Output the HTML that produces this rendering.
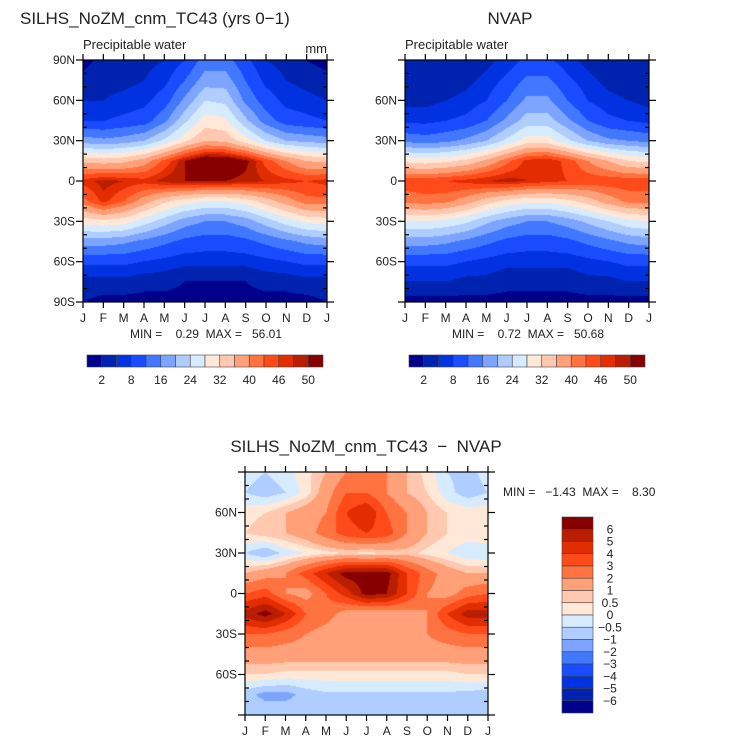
<!DOCTYPE html>
<html><head><meta charset="utf-8">
<style>
body{margin:0;background:#fff;width:733px;height:744px;overflow:hidden;position:relative;font-family:"Liberation Sans",sans-serif;}
canvas{position:absolute;}
svg{position:absolute;left:0;top:0;}
svg text{white-space:pre;}
</style></head><body>
<canvas id="c1" width="244" height="242" style="left:83px;top:60px"></canvas>
<canvas id="c2" width="244" height="242" style="left:405px;top:60px"></canvas>
<canvas id="c3" width="243" height="243" style="left:245px;top:472px"></canvas>
<svg id="ov" width="733" height="744"></svg>
<script>
const months=["J","F","M","A","M","J","J","A","S","O","N","D","J"];
const latLabels=["90N","60N","30N","0","30S","60S","90S"];
const colors=["#00008c","#0023af","#0032e1","#194bff","#4178ff","#7da5ff","#afcdff","#d7ebff","#ffe8d7","#ffc8af","#ffa078","#ff7341","#ff4b19","#e12d00","#b91e00","#870000"];
const lev1=[2,5,8,12,16,20,24,28,32,36,40,43,46,48,50];
const lev1Labels=["2","8","16","24","32","40","46","50"];
const lev3=[-6,-5,-4,-3,-2,-1,-0.5,0,0.5,1,2,3,4,5,6];
const lev3Labels=["6","5","4","3","2","1","0.5","0","\u22120.5","\u22121","\u22122","\u22123","\u22124","\u22125","\u22126"];
// rows: 90N..90S every 15 deg; cols: Jan..Jan
const model=[
[1,3,3,4,5,8,14,14,9,5,4,2,1],
[3,4,4,5,7,12,18,18,12,7,5,4,3],
[5,5,6,7,10,17,24,23,15,10,7,6,5],
[8,8,9,10,15,23,30,29,21,14,10,9,8],
[18,17,18,20,25,31,36,35,30,24,20,19,18],
[35,34,35,38,44,50,54,54,51,45,40,36,35],
[47,49,48,47,49,50,50,50,49,48,47,46,47],
[42,47,43,38,33,30,28,28,30,34,38,42,42],
[30,31,30,26,22,18,16,16,18,22,26,29,30],
[18,18,17,15,13,11,10,10,11,13,15,17,18],
[9,9,9,8,7,6,6,6,6,7,8,9,9],
[4,4,4,3,3,2,2,2,2,3,3,4,4],
[2,1,1,1,1,1,1,1,1,1,1,1,2]];
const nvap=[
[2,2,2,3,4,6,9,9,6,4,3,2,2],
[3,3,3,4,6,9,13,13,9,6,4,3,3],
[4,4,5,6,8,12,17,17,12,8,6,5,4],
[7,7,8,9,12,17,22,22,17,12,9,8,7],
[15,14,15,17,20,25,30,30,25,20,17,16,15],
[31,30,31,33,37,42,47,48,45,40,36,32,31],
[45,45,46,47,48,49,48,47,46,45,45,45,45],
[41,42,41,38,34,31,29,29,31,34,38,41,41],
[28,28,27,25,21,18,16,16,18,21,24,27,28],
[18,18,17,15,13,11,10,10,11,13,15,17,18],
[9,9,9,8,7,6,6,6,6,7,8,9,9],
[5,5,5,4,4,3,3,3,3,4,4,5,5],
[1,1,1,1,1,1,1,1,1,1,1,1,1]];
const diff=[
[-0.3,-0.5,-0.2,0.3,1,2,2,2,1,0.3,-0.5,-0.7,-0.3],
[-0.5,-0.8,-0.5,0.2,1.5,3,3,2,1,0.5,-0.3,-0.8,-0.5],
[0.3,0.5,1,1.5,2,4,5,3,2,1,0.5,0.3,0.3],
[0.5,0.8,1,1.5,2.5,3.5,4,3.5,2,1,0.5,0.3,0.5],
[-0.5,-1,-0.3,0,0.3,0.5,0.3,0.5,0.7,0.3,0,-0.4,-0.5],
[1,1.5,2,3.5,5,6.5,6.5,6.5,4,2.5,1.5,1,1],
[3,3.5,2,1.5,3,4.5,6.5,6,4,2,1.5,2.5,3],
[5.5,6.5,5,3,2.5,1.5,1,1.2,1.5,2,4,5.5,5.5],
[3,3,2.5,2,1.5,1.2,1.2,1.5,1.5,2,2.5,3,3],
[1.5,1.5,1.5,1.5,1.5,1.5,1.5,1.5,1.5,1.5,1.5,1.5,1.5],
[0.5,0.5,0.3,0.3,0.3,0.3,0.3,0.3,0.3,0.3,0.3,0.5,0.5],
[-0.8,-1.2,-1.2,-0.8,-0.6,-0.6,-0.6,-0.6,-0.6,-0.6,-0.6,-0.7,-0.8],
[-0.6,-0.6,-0.6,-0.6,-0.6,-0.6,-0.6,-0.6,-0.6,-0.6,-0.6,-0.6,-0.6]];

function hex(c){return [parseInt(c.slice(1,3),16),parseInt(c.slice(3,5),16),parseInt(c.slice(5,7),16)];}
const rgb=colors.map(hex);
function drawField(id,grid,lev){
  const cv=document.getElementById(id),ctx=cv.getContext('2d');
  const W=cv.width,H=cv.height,img=ctx.createImageData(W,H);
  const nr=grid.length,nc=grid[0].length;
  for(let y=0;y<H;y++){
    const fy=y/(H-1)*(nr-1),r0=Math.min(Math.floor(fy),nr-2),ty=fy-r0;
    for(let x=0;x<W;x++){
      const fx=x/(W-1)*(nc-1),c0=Math.min(Math.floor(fx),nc-2),tx=fx-c0;
      const v=(grid[r0][c0]*(1-tx)+grid[r0][c0+1]*tx)*(1-ty)+(grid[r0+1][c0]*(1-tx)+grid[r0+1][c0+1]*tx)*ty;
      let k=0;while(k<lev.length&&v>=lev[k])k++;
      const col=rgb[k],i=(y*W+x)*4;
      img.data[i]=col[0];img.data[i+1]=col[1];img.data[i+2]=col[2];img.data[i+3]=255;
    }
  }
  ctx.putImageData(img,0,0);
}
drawField('c1',model,lev1);
drawField('c2',nvap,lev1);
drawField('c3',diff,lev3);

const svg=document.getElementById('ov'),NS='http://www.w3.org/2000/svg';
function el(tag,attrs,parent){const e=document.createElementNS(NS,tag);for(const k in attrs)e.setAttribute(k,attrs[k]);(parent||svg).appendChild(e);return e;}
function txt(x,y,s,size,anchor,name){const t=el('text',{x:x,y:y,'font-size':size,'text-anchor':anchor||'start',fill:'#222','font-family':'Liberation Sans, sans-serif'});t.textContent=s;


return t;}
function axes(x0,y0,w,h,labelIdx,pfx){
  const g=el('g',{stroke:'#000','stroke-width':1.2,fill:'none'});
  
  
  el('rect',{x:x0,y:y0,width:w,height:h},g);
  const xs=m=>x0+m*w/12, ys=lat=>y0+(90-lat)/180*h;
  for(let m=0;m<13;m++){
    el('line',{x1:xs(m),y1:y0,x2:xs(m),y2:y0-6},g);
    el('line',{x1:xs(m),y1:y0+h,x2:xs(m),y2:y0+h+6},g);
    txt(xs(m),y0+h+20,months[m],12,'middle',pfx+'-month-label');
  }
  for(let lat=-90;lat<=90;lat+=10){
    if(lat%30===0){
      el('line',{x1:x0-7,y1:ys(lat),x2:x0,y2:ys(lat)},g);
      el('line',{x1:x0+w,y1:ys(lat),x2:x0+w+7,y2:ys(lat)},g);
    }else{
      el('line',{x1:x0,y1:ys(lat),x2:x0+4,y2:ys(lat)},g);
      el('line',{x1:x0+w-4,y1:ys(lat),x2:x0+w,y2:ys(lat)},g);
    }
  }
  labelIdx.forEach(i=>{const lat=90-30*i;txt(x0-8,ys(lat)+4,latLabels[i],12,'end',pfx+'-lat-label');});
}
axes(83,60,244,242,[0,1,2,3,4,5,6],'model');
axes(405,60,244,242,[1,2,3,4,5],'nvap');
axes(245,472,243,243,[1,2,3,4,5],'diff');

txt(20,24,"SILHS_NoZM_cnm_TC43 (yrs 0\u22121)",17,'start','model-title');
txt(510,24,"NVAP",17,'middle','nvap-title');
txt(83,49,"Precipitable water",13,'start','model-subtitle');
txt(405,49,"Precipitable water",13,'start','nvap-subtitle');
txt(327,53,"mm",13,'end','model-units');
txt(206,338,"MIN =    0.29  MAX =   56.01",12,'middle','model-minmax');
txt(528,338,"MIN =    0.72  MAX =   50.68",12,'middle','nvap-minmax');
txt(366,452,"SILHS_NoZM_cnm_TC43  \u2212  NVAP",17,'middle','diff-title');
txt(503,496,"MIN =   \u22121.43  MAX =    8.30",12,'start','diff-minmax');

function hbar(x0,pfx){
  const bw=236/16;
  for(let i=0;i<16;i++){
    const r=el('rect',{x:x0+i*bw,y:355,width:bw,height:12,fill:colors[i],stroke:'#444','stroke-width':0.6});
    
    
  }
  lev1Labels.forEach((s,j)=>txt(x0+(2*j+1)*bw,384,s,12,'middle',pfx+'-colorbar-label'));
}
hbar(87,'model');hbar(409,'nvap');
const bh=196/16;
for(let i=0;i<16;i++){
  const r=el('rect',{x:562,y:517+i*bh,width:31,height:bh,fill:colors[15-i],stroke:'#444','stroke-width':0.6});
  
  
}
lev3Labels.forEach((s,j)=>txt(610,517+(j+1)*bh+4,s,12,'middle','diff-colorbar-label'));
</script>
</body></html>
